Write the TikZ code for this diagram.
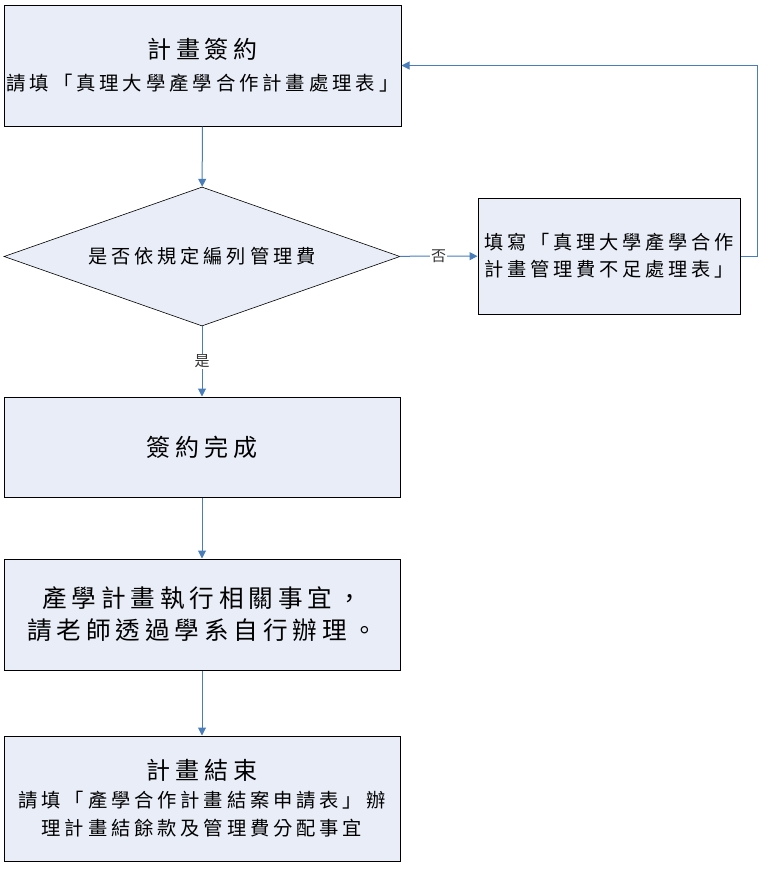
\documentclass[tikz,border=0pt]{standalone}
\usepackage{fontspec}
\newfontfamily\cjk[LetterSpace=20]{Noto Sans CJK TC}
\usetikzlibrary{arrows.meta,shapes.geometric}
\definecolor{boxfill}{RGB}{232,237,247}
\definecolor{linkblue}{RGB}{74,126,187}
\newcommand\bigtxt{\fontsize{24}{30}\selectfont}
\tikzset{
	stepbox/.style={draw=black, line width=1pt, fill=boxfill, inner sep=0pt, align=center},
	askbox/.style={diamond, draw=black, line width=0.6pt, fill=boxfill, inner sep=0pt, aspect=2.85},
	link/.style={draw=linkblue, line width=1pt, -{Triangle[length=8pt,width=8pt]}},
	linklabel/.style={fill=white, inner sep=1pt, font=\cjk\fontsize{15}{17}\selectfont, text=black!80}
}

\begin{document}
\begin{tikzpicture}[x=1pt, y=-1pt]
			%%%%% START %%%%%
			
			\useasboundingbox[fill=white] (0, 0) rectangle (777, 894);
			
			\node[stepbox, minimum width=397pt, minimum height=121pt, font=\cjk\fontsize{19.4}{32}\selectfont] (sign) at (202.5, 65.5)
				{{\bigtxt 計畫簽約}\\請填「真理大學產學合作計畫處理表」};
			
			\node[askbox, minimum width=396pt, minimum height=139pt, font=\cjk\fontsize{19.2}{20}\selectfont] (check) at (202, 256.5) {是否依規定編列管理費};
			
			\node[stepbox, align=left, minimum width=262pt, minimum height=116pt, font=\cjk\fontsize{19.2}{27}\selectfont] (lack) at (609, 256)
				{填寫「真理大學產學合作\\計畫管理費不足處理表」};
			
			\node[stepbox, minimum width=396pt, minimum height=100pt, font=\cjk\bigtxt] (done) at (202, 447) {簽約完成};
			
			\node[stepbox, minimum width=396pt, minimum height=111pt, font=\cjk\fontsize{24.6}{32}\selectfont] (run) at (202, 614.5)
				{產學計畫執行相關事宜，\\請老師透過學系自行辦理。};
			
			\node[stepbox, minimum width=396pt, minimum height=125pt, font=\cjk\fontsize{19.3}{28}\selectfont] (close) at (202, 798.5)
				{{\bigtxt 計畫結束}\\請填「產學合作計畫結案申請表」辦\\理計畫結餘款及管理費分配事宜};
			
			\draw[link] (sign) -- (check);
			\draw[link] (check) -- node[linklabel] (yes) {是} (done);
			\draw[link] (check) -- node[linklabel] (no) {否} (lack);
			\draw[link] (lack.east) -- ++(17, 0) |- (sign.east);
			\draw[link] (done) -- (run);
			\draw[link] (run) -- (close);
			
			%%%%% END %%%%%
\end{tikzpicture}
\end{document}
